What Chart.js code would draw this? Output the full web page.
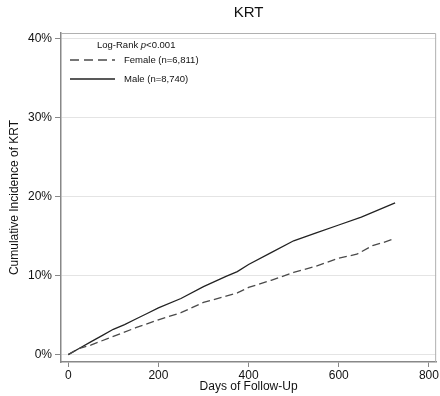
<!DOCTYPE html>
<html>
<head>
<meta charset="utf-8">
<script src="https://cdn.jsdelivr.net/npm/chart.js@4.4.1/dist/chart.umd.min.js"></script>
<style>
  html, body { margin: 0; padding: 0; background: #fff; }
  #wrap { width: 440px; height: 396px; position: relative; }
</style>
</head>
<body>
<div id="wrap"><canvas id="chart"></canvas></div>
<script>
// days of follow-up and cumulative incidence (%)
const maleDays = [0, 25, 50, 75, 100, 125, 150, 175, 200, 250, 300, 350, 375, 400, 450, 500, 550, 600, 650, 700, 725];
const maleInc  = [0, 0.8, 1.6, 2.4, 3.2, 3.8, 4.5, 5.2, 5.9, 7.1, 8.6, 9.9, 10.5, 11.4, 12.9, 14.4, 15.4, 16.4, 17.4, 18.6, 19.2];

const femaleDays = [0, 25, 50, 100, 150, 200, 250, 300, 350, 375, 400, 450, 500, 550, 600, 640, 675, 700, 725];
const femaleInc  = [0, 0.8, 1.2, 2.3, 3.4, 4.4, 5.3, 6.6, 7.4, 7.8, 8.5, 9.4, 10.4, 11.2, 12.2, 12.7, 13.8, 14.2, 14.7];

const xTicks = [0, 200, 400, 600, 800];
const yTicks = [0, 10, 20, 30, 40];

const seriesLabels = ['Female (n=6,811)', 'Male (n=8,740)'];
const titleText = 'KRT';
const testText = ['Log-Rank ', 'p', '<0.001'];

const FONT = '"Liberation Sans", Arial, Helvetica, sans-serif';

const toPoints = (xs, ys) => xs.map((x, i) => ({ x: x, y: ys[i] }));

// frame, title and inset legend
const decor = {
    id: 'decor',
    beforeDatasetsDraw(chart) {
        const { ctx, chartArea: a } = chart;
        ctx.save();
        ctx.strokeStyle = '#b0b0b0';
        ctx.lineWidth = 1;
        ctx.beginPath();
        ctx.moveTo(a.left, a.top + 0.5);
        ctx.lineTo(a.right - 0.5, a.top + 0.5);
        ctx.lineTo(a.right - 0.5, a.bottom);
        ctx.stroke();
        ctx.restore();
    },
    afterDraw(chart) {
        const { ctx, chartArea: a } = chart;
        ctx.save();
        ctx.fillStyle = '#111';
        ctx.textBaseline = 'middle';

        ctx.font = '15px ' + FONT;
        ctx.textAlign = 'center';
        ctx.fillText(titleText, (a.left + a.right) / 2, 13);

        // legend box
        ctx.textAlign = 'left';
        ctx.font = '9.5px ' + FONT;
        let x = 97;
        ctx.fillText(testText[0], x, 45);
        x += ctx.measureText(testText[0]).width;
        ctx.font = 'italic 9.5px ' + FONT;
        ctx.fillText(testText[1], x, 45);
        x += ctx.measureText(testText[1]).width;
        ctx.font = '9.5px ' + FONT;
        ctx.fillText(testText[2], x, 45);

        const rows = [
            { y: 60, ds: chart.data.datasets[0] },
            { y: 79, ds: chart.data.datasets[1] }
        ];
        rows.forEach((r, i) => {
            ctx.strokeStyle = r.ds.borderColor;
            ctx.lineWidth = r.ds.borderWidth;
            ctx.setLineDash(r.ds.borderDash ? [9, 5] : []);
            ctx.beginPath();
            ctx.moveTo(70, r.y);
            ctx.lineTo(115, r.y);
            ctx.stroke();
            ctx.setLineDash([]);
            ctx.fillText(seriesLabels[i], 124, r.y);
        });
        ctx.restore();
    }
};

const ctx = document.getElementById('chart').getContext('2d');
new Chart(ctx, {
    type: 'line',
    data: {
        datasets: [
            {
                label: seriesLabels[0],
                data: toPoints(femaleDays, femaleInc),
                borderColor: '#4a4a4a',
                borderWidth: 1.3,
                borderDash: [8, 4],
                pointRadius: 0,
                tension: 0,
                fill: false
            },
            {
                label: seriesLabels[1],
                data: toPoints(maleDays, maleInc),
                borderColor: '#222',
                borderWidth: 1.3,
                pointRadius: 0,
                tension: 0,
                fill: false
            }
        ]
    },
    options: {
        responsive: true,
        maintainAspectRatio: false,
        animation: false,
        layout: { padding: { top: 33, right: 3, left: 0, bottom: 0 } },
        plugins: {
            legend: { display: false },
            tooltip: { enabled: false },
            title: { display: false }
        },
        scales: {
            x: {
                type: 'linear',
                min: -16,
                max: 816,
                afterBuildTicks: s => { s.ticks = xTicks.map(v => ({ value: v })); },
                afterFit: s => { s.height = 34; },
                grid: {
                    drawOnChartArea: false,
                    tickLength: 5,
                    tickColor: '#888'
                },
                border: { color: '#888', width: 1.5 },
                ticks: {
                    color: '#111',
                    font: { family: FONT, size: 12 },
                    padding: 1,
                    maxRotation: 0
                },
                title: {
                    display: true,
                    text: 'Days of Follow-Up',
                    color: '#111',
                    font: { family: FONT, size: 12 },
                    padding: { top: 0, bottom: 2 }
                }
            },
            y: {
                type: 'linear',
                min: -0.94,
                max: 40.7,
                afterBuildTicks: s => { s.ticks = yTicks.map(v => ({ value: v })); },
                afterFit: s => { s.width = 61; },
                grid: {
                    color: '#e4e4e4',
                    lineWidth: 1,
                    tickLength: 6,
                    tickColor: '#888'
                },
                border: { color: '#888', width: 1.5 },
                ticks: {
                    color: '#111',
                    font: { family: FONT, size: 12 },
                    padding: 3,
                    callback: v => v + '%'
                },
                title: {
                    display: true,
                    text: 'Cumulative Incidence of KRT',
                    color: '#111',
                    font: { family: FONT, size: 12 },
                    padding: { top: 7, bottom: 0 }
                }
            }
        }
    },
    plugins: [decor]
});
</script>
</body>
</html>
